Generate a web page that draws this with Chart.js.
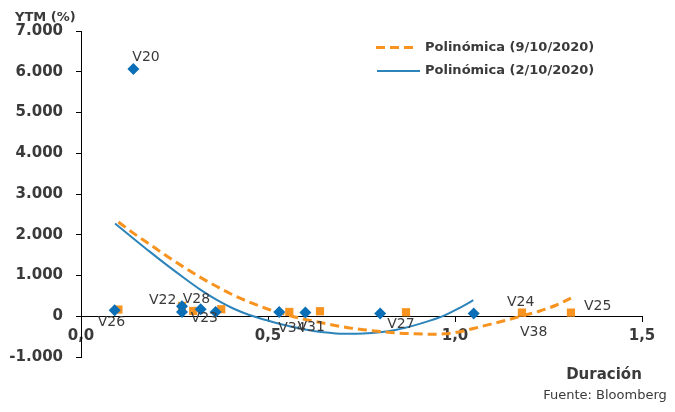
<!DOCTYPE html>
<html>
<head>
<meta charset="utf-8">
<script src="https://cdn.jsdelivr.net/npm/chart.js@4/dist/chart.umd.min.js"></script>
<style>
  html, body { margin: 0; padding: 0; background: #fff; }
  #wrap { width: 675px; height: 412px; }
</style>
</head>
<body>
<div id="wrap"><canvas id="grafico" width="675" height="412"></canvas></div>
<script>
// bonos (2/10/2020)
const bonosX_0210 = [0.09, 0.14, 0.27, 0.27, 0.32, 0.36, 0.53, 0.60, 0.80, 1.05];
const bonosY_0210 = [150, 6070, 245, 105, 170, 105, 105, 90, 65, 65];
// bonos (9/10/2020)
const bonosX_0910 = [0.10, 0.27, 0.30, 0.375, 0.557, 0.639, 0.869, 1.179, 1.31];
const bonosY_0910 = [164, 253, 130, 172, 106, 123, 98, 90, 90];

// tendencias
const tendX_0210 = [0.091, 0.14, 0.1845, 0.229, 0.274, 0.318, 0.363, 0.407, 0.452, 0.497, 0.541, 0.586,
                    0.621, 0.665, 0.71, 0.755, 0.799, 0.844, 0.889, 0.929, 0.969, 1.009, 1.049];
const tendY_0210 = [2278, 1910, 1580, 1260, 950, 660, 400, 190, 25, -100, -210, -300,
                    -360, -405, -430, -425, -395, -330, -230, -120, 10, 190, 393];
const tendX_0910 = [0.10, 0.14, 0.1845, 0.229, 0.274, 0.318, 0.363, 0.407, 0.452, 0.497, 0.541, 0.586,
                    0.621, 0.665, 0.71, 0.755, 0.80, 0.844, 0.889, 0.93, 0.97, 1.01, 1.049, 1.093,
                    1.138, 1.182, 1.227, 1.27, 1.31];
const tendY_0910 = [2314, 2040, 1760, 1480, 1210, 960, 730, 520, 340, 185, 60, -50,
                    -120, -200, -275, -330, -375, -410, -430, -440, -432, -385, -300, -200,
                    -95, 15, 130, 270, 445];

const nombres = ['V20', 'V26', 'V22', 'V28', 'V23', 'V34', 'V31', 'V27', 'V24', 'V38', 'V25'];
const leyenda = ['Polinómica (9/10/2020)', 'Polinómica (2/10/2020)'];

const azul = '#0b6fb8';
const azulLinea = '#2d84bb';
const naranja = '#f7931e';
const texto = '#3a3a3a';
const fuente = 'DejaVu Sans';

const pares = (xs, ys) => xs.map((x, i) => ({ x: x, y: ys[i] }));

// donde va cada etiqueta: serie, punto, desplazamiento en px
const posEtiquetas = {
    V20: [0, 1, -1, -12], V26: [0, 0, -17, 12], V22: [0, 2, -33, -6], V28: [0, 4, -18, -10],
    V23: [0, 5, -25, 6], V34: [0, 6, -1, 16], V31: [0, 7, -8, 15], V27: [0, 8, 7, 11],
    V24: [1, 7, -15, -10], V38: [1, 7, -2, 20], V25: [1, 8, 13, -6]
};

const extras = {
    id: 'extras',
    afterDatasetsDraw(chart) {
        const c = chart.ctx;
        c.save();
        // etiquetas de los puntos
        c.font = '14px "' + fuente + '"';
        c.fillStyle = texto;
        c.textAlign = 'left';
        c.textBaseline = 'middle';
        nombres.forEach(n => {
            const p = posEtiquetas[n];
            const el = chart.getDatasetMeta(p[0]).data[p[1]];
            c.fillText(n, el.x + p[2], el.y + p[3]);
        });

        // leyenda
        c.lineWidth = 3;
        c.strokeStyle = naranja;
        c.setLineDash([9, 5]);
        c.beginPath(); c.moveTo(376, 47.5); c.lineTo(416, 47.5); c.stroke();
        c.setLineDash([]);
        c.lineWidth = 2;
        c.strokeStyle = azulLinea;
        c.beginPath(); c.moveTo(377, 71); c.lineTo(420, 71); c.stroke();
        c.font = 'bold 13px "' + fuente + '"';
        c.fillText(leyenda[0], 425, 47.5);
        c.fillText(leyenda[1], 425, 71);

        // titulos
        c.fillText('YTM (%)', 15, 17.5);
        c.font = 'bold 15px "' + fuente + '"';
        c.textAlign = 'center';
        c.fillText('Duración', 604, 375);
        c.font = '13px "' + fuente + '"';
        c.fillText('Fuente: Bloomberg', 605, 396);
        c.restore();
    }
};

Chart.defaults.font.family = fuente;

new Chart(document.getElementById('grafico'), {
    type: 'scatter',
    data: {
        datasets: [
            {
                label: 'Bonos 2/10/2020',
                data: pares(bonosX_0210, bonosY_0210),
                pointStyle: 'rectRot',
                pointRadius: 6,
                backgroundColor: azul,
                borderColor: azul,
                borderWidth: 0,
                order: 0
            },
            {
                label: 'Bonos 9/10/2020',
                data: pares(bonosX_0910, bonosY_0910),
                pointStyle: 'rect',
                pointRadius: 5.8,
                backgroundColor: naranja,
                borderColor: naranja,
                borderWidth: 0,
                order: 1
            },
            {
                label: leyenda[0],
                data: pares(tendX_0910, tendY_0910),
                showLine: true,
                pointRadius: 0,
                borderColor: naranja,
                borderWidth: 3,
                borderDash: [9, 5],
                cubicInterpolationMode: 'monotone',
                order: 2
            },
            {
                label: leyenda[1],
                data: pares(tendX_0210, tendY_0210),
                showLine: true,
                pointRadius: 0,
                borderColor: azulLinea,
                borderWidth: 2,
                cubicInterpolationMode: 'monotone',
                order: 3
            }
        ]
    },
    options: {
        responsive: false,
        animation: false,
        devicePixelRatio: 1,
        layout: { padding: { left: 0, top: 31, right: 33, bottom: 55 } },
        plugins: {
            legend: { display: false },
            tooltip: { enabled: false }
        },
        scales: {
            x: {
                type: 'linear',
                position: { y: 0 },
                min: 0,
                max: 1.5,
                afterFit: s => { s.height = 0; },
                grid: { drawOnChartArea: false, tickLength: 5, color: '#000' },
                border: { color: '#000', width: 1 },
                ticks: {
                    stepSize: 0.5,
                    padding: 6,
                    color: texto,
                    font: { family: fuente, size: 15, weight: 'bold' },
                    callback: v => v.toFixed(1).replace('.', ',')
                }
            },
            y: {
                min: -1000,
                max: 7000,
                afterFit: s => { s.width = 81; },
                grid: { drawOnChartArea: false, tickLength: 5, color: '#000' },
                border: { color: '#000', width: 1 },
                ticks: {
                    stepSize: 1000,
                    padding: 13,
                    color: texto,
                    font: { family: fuente, size: 15, weight: 'bold' },
                    callback: v => v === 0 ? '0' : (v / 1000).toFixed(3)
                }
            }
        }
    },
    plugins: [extras]
});
</script>
</body>
</html>
